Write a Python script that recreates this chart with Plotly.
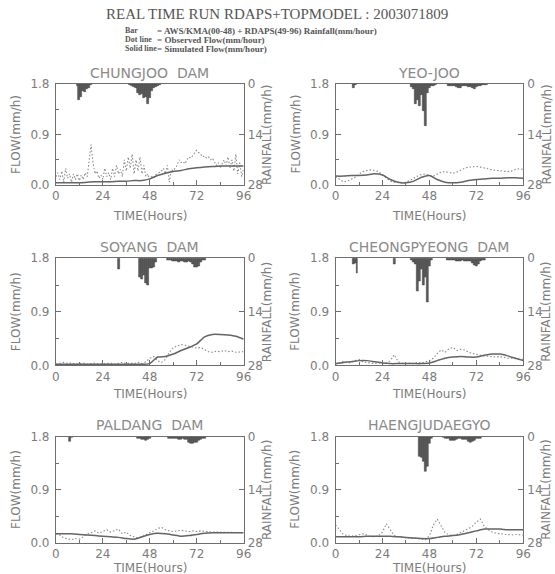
import plotly.graph_objects as go

W, H = 555, 574
# the captured page shows the figure slightly shrunk; map target window pixels to figure pixels
OX, SX = 1.5, 0.99
OY, SY = 7.2, 0.974

# ---------------- data ----------------
panel_names = ["CHUNGJOO  DAM", "YEO-JOO", "SOYANG  DAM", "CHEONGPYEONG  DAM", "PALDANG  DAM", "HAENGJUDAEGYO"]

x_ticks = [0, 24, 48, 72, 96]
flow_ticks = [0.0, 0.9, 1.8]
flow_tick_text = ["0.0", "0.9", "1.8"]
rain_ticks = [0, 14, 28]

hours_1h = list(range(97))
hours_2h = list(range(0, 97, 2))
hours_4h = list(range(0, 97, 4))

# observed flow (dotted)
chungjoo_obs = [0.15, 0.22, 0.10, 0.25, 0.05, 0.30, 0.12, 0.20, 0.05, 0.20, 0.10, 0.20, 0.08, 0.18, 0.10, 0.22,
                0.15, 0.45, 0.72, 0.40, 0.20, 0.25, 0.12, 0.18, 0.10, 0.30, 0.15, 0.22, 0.10, 0.30, 0.15, 0.35,
                0.20, 0.28, 0.15, 0.45, 0.25, 0.50, 0.30, 0.55, 0.20, 0.45, 0.25, 0.50, 0.20, 0.35, 0.15, 0.20,
                0.10, 0.15, 0.12, 0.18, 0.20, 0.22, 0.25, 0.30, 0.20, 0.35, 0.05, 0.28, 0.25, 0.30, 0.35, 0.45,
                0.40, 0.42, 0.38, 0.45, 0.50, 0.48, 0.52, 0.58, 0.62, 0.58, 0.55, 0.50, 0.52, 0.48, 0.50, 0.45,
                0.48, 0.42, 0.35, 0.40, 0.30, 0.38, 0.45, 0.35, 0.50, 0.30, 0.45, 0.25, 0.55, 0.20, 0.40, 0.15, 0.30]
yeojoo_obs = [0.15, 0.10, 0.06, 0.07, 0.10, 0.14, 0.20, 0.24, 0.26, 0.27, 0.26, 0.24, 0.18, 0.12, 0.07, 0.05,
              0.04, 0.04, 0.05, 0.08, 0.12, 0.16, 0.19, 0.20, 0.17, 0.16, 0.19, 0.23, 0.24, 0.22, 0.21, 0.23,
              0.27, 0.30, 0.32, 0.33, 0.33, 0.32, 0.31, 0.29, 0.27, 0.26, 0.25, 0.24, 0.24, 0.25, 0.28, 0.29, 0.28]
soyang_obs = [0.02, 0.03, 0.05, 0.03, 0.04, 0.02, 0.03, 0.04, 0.02, 0.03, 0.04, 0.02, 0.03, 0.03, 0.04, 0.02,
              0.03, 0.05, 0.03, 0.04, 0.03, 0.05, 0.03, 0.06, 0.12, 0.15, 0.08, 0.05, 0.10, 0.22, 0.30, 0.33,
              0.35, 0.34, 0.32, 0.30, 0.29, 0.30, 0.27, 0.23, 0.22, 0.24, 0.23, 0.25, 0.23, 0.24, 0.22, 0.23, 0.23]
cheongpyeong_obs = [0.02, 0.04, 0.07, 0.04, 0.05, 0.08, 0.10, 0.06, 0.05, 0.04, 0.03, 0.04, 0.03, 0.04, 0.08, 0.18,
                    0.06, 0.04, 0.03, 0.04, 0.03, 0.05, 0.04, 0.06, 0.08, 0.12, 0.20, 0.26, 0.22, 0.28, 0.30, 0.25,
                    0.27, 0.26, 0.22, 0.20, 0.18, 0.17, 0.16, 0.15, 0.15, 0.14, 0.15, 0.13, 0.12, 0.12, 0.11, 0.10, 0.10]
paldang_obs = [0.15, 0.13, 0.08, 0.06, 0.05, 0.07, 0.06, 0.10, 0.15, 0.17, 0.20, 0.16, 0.19, 0.22, 0.18, 0.20,
               0.23, 0.15, 0.18, 0.12, 0.10, 0.08, 0.10, 0.14, 0.17, 0.20, 0.24, 0.26, 0.22, 0.20, 0.19, 0.20,
               0.21, 0.20, 0.19, 0.20, 0.19, 0.20, 0.19, 0.19, 0.18, 0.18, 0.18, 0.17, 0.17, 0.17, 0.17, 0.17, 0.17]
haengju_obs = [0.30, 0.22, 0.14, 0.12, 0.11, 0.12, 0.13, 0.15, 0.13, 0.10, 0.10, 0.12, 0.18, 0.32, 0.22, 0.12,
               0.10, 0.09, 0.08, 0.08, 0.07, 0.07, 0.06, 0.05, 0.12, 0.30, 0.40, 0.28, 0.17, 0.13, 0.12, 0.14,
               0.17, 0.21, 0.24, 0.28, 0.35, 0.40, 0.28, 0.22, 0.18, 0.16, 0.15, 0.14, 0.14, 0.13, 0.14, 0.13, 0.13]

# simulated flow (solid)
chungjoo_sim = [0.04, 0.04, 0.04, 0.04, 0.05, 0.06, 0.06, 0.06, 0.07, 0.07, 0.08, 0.08, 0.11,
                0.17, 0.21, 0.24, 0.26, 0.29, 0.31, 0.32, 0.33, 0.34, 0.34, 0.34, 0.34]
yeojoo_sim = [0.16, 0.16, 0.17, 0.17, 0.18, 0.20, 0.18, 0.10, 0.05, 0.04, 0.07, 0.14, 0.17,
              0.10, 0.05, 0.04, 0.05, 0.08, 0.10, 0.11, 0.12, 0.12, 0.13, 0.13, 0.12]
soyang_sim = [0.02, 0.02, 0.02, 0.02, 0.02, 0.02, 0.02, 0.02, 0.02, 0.02, 0.02, 0.02, 0.03,
              0.14, 0.15, 0.19, 0.25, 0.30, 0.36, 0.48, 0.52, 0.52, 0.51, 0.49, 0.44]
cheongpyeong_sim = [0.03, 0.05, 0.06, 0.08, 0.08, 0.06, 0.04, 0.03, 0.03, 0.03, 0.03, 0.03, 0.04,
                    0.08, 0.12, 0.14, 0.15, 0.14, 0.14, 0.17, 0.19, 0.19, 0.16, 0.12, 0.08]
paldang_sim = [0.15, 0.15, 0.15, 0.14, 0.13, 0.12, 0.11, 0.10, 0.09, 0.07, 0.06, 0.10, 0.14,
               0.16, 0.15, 0.13, 0.11, 0.12, 0.14, 0.16, 0.17, 0.17, 0.17, 0.17, 0.17]
haengju_sim = [0.10, 0.10, 0.10, 0.10, 0.11, 0.11, 0.11, 0.11, 0.10, 0.09, 0.08, 0.07, 0.07,
               0.09, 0.11, 0.12, 0.14, 0.17, 0.20, 0.23, 0.23, 0.23, 0.22, 0.22, 0.22]

# rainfall bars (hour, mm/h)
chungjoo_rain_h = [11, 12, 13, 14, 15, 16, 17, 18, 38, 39, 40, 41, 42, 43, 44, 45, 46, 47, 48, 49, 50, 51, 52, 53]
chungjoo_rain = [0.5, 4.5, 3.5, 2.0, 2.2, 1.5, 1.0, 0.3, 0.3, 0.5, 0.8, 1.0, 2.5, 3.0, 2.8, 4.0, 3.5, 5.5, 4.0, 2.0,
                 1.2, 0.8, 0.5, 0.3]
yeojoo_rain_h = [9, 10, 39, 40, 41, 42, 43, 44, 45, 46, 47, 48, 49, 50, 51, 58, 59, 60, 61, 62, 63, 64, 65, 66, 67,
                 68, 69, 70, 71, 72, 73, 74, 75, 76, 77]
yeojoo_rain = [1.2, 0.3, 0.8, 1.5, 5.5, 4.5, 6.0, 3.0, 7.5, 11.5, 2.5, 1.0, 0.6, 0.5, 0.3, 0.5, 0.6, 0.5, 0.6, 0.8,
               1.2, 1.0, 0.6, 0.5, 0.6, 0.7, 0.9, 1.2, 1.3, 0.8, 0.6, 0.5, 0.4, 0.3, 0.3]
soyang_rain_h = [32, 43, 44, 45, 46, 47, 48, 49, 50, 51, 57, 58, 59, 60, 61, 62, 63, 64, 65, 66, 67, 68, 69, 70, 71,
                 72, 73, 74, 75, 76]
soyang_rain = [3.0, 5.0, 5.5, 4.5, 6.5, 7.0, 2.5, 2.5, 2.3, 1.0, 0.4, 0.6, 0.6, 0.7, 0.8, 0.9, 1.0, 0.9, 0.8, 1.0,
               1.0, 0.9, 1.0, 1.5, 2.4, 2.4, 2.0, 1.0, 0.6, 0.4]
cheongpyeong_rain_h = [9, 10, 11, 30, 39, 40, 41, 42, 43, 44, 45, 46, 47, 48, 49, 57, 58, 59, 60, 61, 62, 63, 64, 65,
                       66, 67, 68, 69, 70, 71, 72, 73, 74, 75, 76]
cheongpyeong_rain = [1.5, 1.2, 4.0, 1.5, 0.6, 1.0, 1.5, 8.5, 6.0, 3.0, 7.0, 5.0, 11.5, 2.0, 0.5, 0.4, 0.5, 0.6, 0.6,
                     0.6, 0.7, 0.7, 0.7, 0.6, 0.7, 0.8, 0.8, 0.9, 1.2, 1.8, 2.0, 1.5, 0.8, 0.5, 0.4]
paldang_rain_h = [7, 8, 42, 43, 44, 45, 46, 47, 48, 58, 59, 60, 61, 62, 63, 64, 65, 66, 67, 68, 69, 70, 71, 72, 73,
                  74, 75, 76]
paldang_rain = [1.2, 0.3, 0.4, 0.6, 0.8, 0.7, 1.0, 0.9, 0.5, 0.4, 0.5, 0.6, 0.5, 0.6, 0.8, 0.7, 0.6, 0.7, 0.8, 1.6,
                1.8, 1.8, 1.7, 1.6, 1.0, 0.7, 0.5, 0.4]
haengju_rain_h = [43, 44, 45, 46, 47, 48, 49, 55, 56, 57, 58, 59, 60, 61, 62, 63, 64, 65, 66, 67, 68, 69, 70, 71, 72,
                  73, 74]
haengju_rain = [5.2, 5.6, 6.5, 9.2, 7.9, 1.9, 0.5, 0.3, 0.4, 0.4, 0.5, 1.0, 1.0, 1.0, 0.8, 0.6, 0.6, 0.7, 0.7, 0.8,
                1.3, 1.5, 1.4, 1.0, 0.6, 0.5, 0.4]

obs_hours = [hours_1h, hours_2h, hours_2h, hours_2h, hours_2h, hours_2h]
obs_sets = [chungjoo_obs, yeojoo_obs, soyang_obs, cheongpyeong_obs, paldang_obs, haengju_obs]
sim_sets = [chungjoo_sim, yeojoo_sim, soyang_sim, cheongpyeong_sim, paldang_sim, haengju_sim]
rain_h_sets = [chungjoo_rain_h, yeojoo_rain_h, soyang_rain_h, cheongpyeong_rain_h, paldang_rain_h, haengju_rain_h]
rain_sets = [chungjoo_rain, yeojoo_rain, soyang_rain, cheongpyeong_rain, paldang_rain, haengju_rain]

# ---------------- layout (target pixel boxes) ----------------
col_left = [54, 337]
col_right = [244, 527]
row_top = [84, 258, 436]
row_bottom = [185, 365, 542]
time_title_y = [216, 394, 567]

AX = "#6e6e6e"
TXT = "#7c7c7c"
FONT = "DejaVu Sans"

fig = go.Figure()
layout = dict(width=W, height=H, margin=dict(l=0, r=0, t=0, b=0),
              paper_bgcolor="white", plot_bgcolor="white", showlegend=False,
              bargap=0, barmode="overlay")
annotations = []


def px(x):
    return ((x - OX) / SX) / W


def py(y):
    return 1 - ((y - OY) / SY) / H


for i in range(6):
    r, c = divmod(i, 2)
    xi = i + 1
    yl = i + 1
    yr = i + 7
    xname = "x" if xi == 1 else f"x{xi}"
    ylname = "y" if yl == 1 else f"y{yl}"
    yrname = f"y{yr}"
    L, R, T, B = col_left[c], col_right[c], row_top[r], row_bottom[r]

    fig.add_trace(go.Bar(x=rain_h_sets[i], y=rain_sets[i], base=0, width=1,
                         marker=dict(color="#5c5c5c", line=dict(color="#3a3a3a", width=0.5)),
                         xaxis=xname, yaxis=yrname))
    fig.add_trace(go.Scatter(x=obs_hours[i], y=obs_sets[i], mode="lines",
                             line=dict(color="#8a8a8a", width=1.1, dash="1.5px,2px"),
                             xaxis=xname, yaxis=ylname))
    fig.add_trace(go.Scatter(x=hours_4h, y=sim_sets[i], mode="lines",
                             line=dict(color="#646464", width=1.5, shape="spline", smoothing=0.6),
                             xaxis=xname, yaxis=ylname))

    layout[f"xaxis{xi if xi > 1 else ''}"] = dict(
        domain=[px(L), px(R)], anchor=ylname, range=[0, 96], tickvals=x_ticks,
        ticks="inside", ticklen=5, tickcolor=AX, showline=True, linecolor=AX, linewidth=1,
        mirror=True, showgrid=False, zeroline=False,
        minor=dict(dtick=12, ticks="inside", ticklen=3, tickcolor=AX, tick0=0),
        tickfont=dict(family=FONT, size=12, color=TXT), fixedrange=True)
    layout[f"yaxis{yl if yl > 1 else ''}"] = dict(
        domain=[py(B), py(T)], anchor=xname, range=[0, 1.8], tickvals=flow_ticks, ticktext=flow_tick_text,
        ticks="inside", ticklen=5, tickcolor=AX, showline=True, linecolor=AX, linewidth=1,
        mirror=True, showgrid=False, zeroline=False, ticklabelstandoff=3,
        minor=dict(dtick=0.45, ticks="inside", ticklen=3, tickcolor=AX, tick0=0),
        tickfont=dict(family=FONT, size=12, color=TXT), fixedrange=True)
    layout[f"yaxis{yr}"] = dict(
        overlaying=ylname, anchor=xname, side="right", range=[28, 0], tickvals=rain_ticks,
        ticks="inside", ticklen=5, tickcolor=AX, showline=False, showgrid=False, zeroline=False,
        ticklabelstandoff=3,
        tickfont=dict(family=FONT, size=12, color=TXT), fixedrange=True)

    cx = (L + R) / 2
    cy = (T + B) / 2
    annotations.append(dict(text=panel_names[i], x=px(cx), y=py(T - 11), xref="paper", yref="paper",
                            showarrow=False, xanchor="center", yanchor="middle",
                            font=dict(family=FONT, size=14, color="#8a8a8a")))
    annotations.append(dict(text="TIME(Hours)", x=px(cx), y=py(time_title_y[r]), xref="paper", yref="paper",
                            showarrow=False, xanchor="center", yanchor="middle",
                            font=dict(family=FONT, size=12, color=TXT)))
    annotations.append(dict(text="FLOW(mm/h)", x=px(L - 41), y=py(cy), xref="paper", yref="paper",
                            showarrow=False, xanchor="center", yanchor="middle", textangle=-90,
                            font=dict(family=FONT, size=12, color=TXT)))
    annotations.append(dict(text="RAINFALL(mm/h)", x=px(R + 23), y=py(cy), xref="paper", yref="paper",
                            showarrow=False, xanchor="center", yanchor="middle", textangle=-90,
                            font=dict(family=FONT, size=12, color=TXT)))

# header
annotations.append(dict(text="REAL TIME RUN RDAPS+TOPMODEL : 2003071809", x=px(278), y=py(14),
                        xref="paper", yref="paper", showarrow=False, xanchor="center", yanchor="middle",
                        font=dict(family="Liberation Serif", size=15, color="#555555")))
legend_labels = ["Bar", "Dot line", "Solid line"]
legend_texts = ["= AWS/KMA(00-48) + RDAPS(49-96) Rainfall(mm/hour)",
                "= Observed Flow(mm/hour)",
                "= Simulated Flow(mm/hour)"]
for k, (lab, txt) in enumerate(zip(legend_labels, legend_texts)):
    yy = 31 + k * 9
    annotations.append(dict(text=f"<b>{lab}</b>", x=px(123), y=py(yy), xref="paper", yref="paper",
                            showarrow=False, xanchor="left", yanchor="middle", borderpad=0,
                            font=dict(family="Liberation Serif", size=8, color="#555555")))
    annotations.append(dict(text=f"<b>{txt}</b>", x=px(155), y=py(yy), xref="paper", yref="paper",
                            showarrow=False, xanchor="left", yanchor="middle", borderpad=0,
                            font=dict(family="Liberation Serif", size=9, color="#555555")))

layout["annotations"] = annotations
fig.update_layout(**layout)
fig.write_html("out.html", config={"displayModeBar": False},
               post_script="document.body.style.margin='0px';")
